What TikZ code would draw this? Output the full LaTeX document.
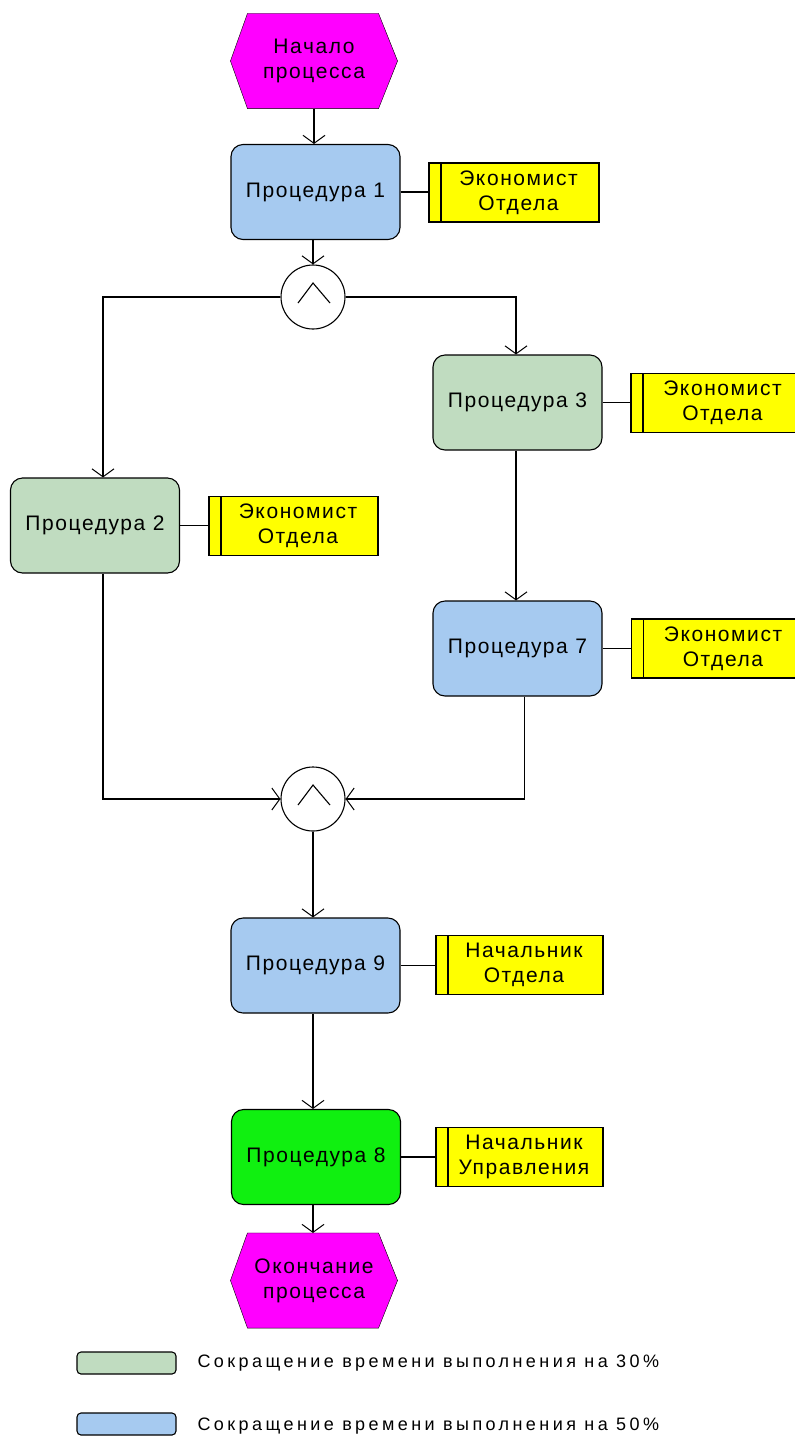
\documentclass[tikz,border=0pt]{standalone}
\usepackage{fontspec}
\setmainfont{Liberation Sans}[LetterSpace=7.5]
\newfontfamily\legfont{Liberation Sans}[LetterSpace=19]
\usetikzlibrary{arrows.meta,backgrounds}

\definecolor{procblue}{RGB}{166,202,240}
\definecolor{procgrey}{RGB}{192,220,192}
\definecolor{procgreen}{RGB}{16,240,16}
\definecolor{evmag}{RGB}{255,0,255}
\definecolor{roleyellow}{RGB}{255,255,0}

% two-line role caption, set a little right of centre (past the inner bar)
\newcommand\roletext[2]{\hspace*{9pt}\begin{tabular}{@{}c@{}}#1\\#2\end{tabular}}

\begin{document}
\begin{tikzpicture}[x=1pt,y=-1pt,line width=1.1pt,
  font=\fontsize{21}{25}\selectfont,
  every node/.style={inner sep=0pt,align=center},
  proc/.style={draw,rounded corners=12pt,minimum width=169pt,minimum height=95pt},
  role/.style={draw,fill=roleyellow,minimum height=59pt,
    path picture={\draw ([xshift=12pt]path picture bounding box.north west)
      -- ([xshift=12pt]path picture bounding box.south west);}},
  evt/.style={minimum width=166pt,minimum height=94pt},
  andgate/.style={draw,circle,minimum size=64pt,
    path picture={\draw ([shift={(-15,6)}]path picture bounding box.center)
      -- ([shift={(0,-14)}]path picture bounding box.center)
      -- ([shift={(17,6)}]path picture bounding box.center);}},
  flow/.style={-{Straight Barb[length=8pt,width=22pt,line width=1pt]}},
  link/.style={line width=1.1pt},
  legbox/.style={draw,rounded corners=4pt,minimum width=99pt,minimum height=22pt},
  legtext/.style={anchor=west,font=\legfont\fontsize{18}{20}\selectfont}
]
\useasboundingbox (0,0) rectangle (795,1436);
\begin{scope}
\clip (0,0) rectangle (795,1436);

% events
\node[evt] (start) at (314,61) {Начало\\процесса};
\node[evt] (finish) at (314,1280.5) {Окончание\\процесса};
\begin{scope}[on background layer]
  \foreach \e in {start,finish}{
    \filldraw[fill=evmag] (\e.west) -- ([xshift=17pt]\e.north west)
      -- ([xshift=-19pt]\e.north east) -- (\e.east)
      -- ([xshift=-19pt]\e.south east) -- ([xshift=17pt]\e.south west) -- cycle;
  }
\end{scope}

% procedures
\node[proc,fill=procblue]  (p1) at (315.5,192)   {Процедура 1};
\node[proc,fill=procgrey]  (p3) at (517.5,402.5) {Процедура 3};
\node[proc,fill=procgrey]  (p2) at (95,525.5)    {Процедура 2};
\node[proc,fill=procblue]  (p7) at (517.5,648.5) {Процедура 7};
\node[proc,fill=procblue]  (p9) at (315.5,965.5) {Процедура 9};
\node[proc,fill=procgreen] (p8) at (316,1157)    {Процедура 8};

% roles
\node[role,minimum width=170pt] (r1) at (514,192.5)   {\roletext{Экономист}{Отдела}};
\node[role,minimum width=174pt] (r3) at (718,403)     {\roletext{Экономист}{Отдела}};
\node[role,minimum width=169pt] (r2) at (293.5,526)   {\roletext{Экономист}{Отдела}};
\node[role,minimum width=174pt] (r7) at (718.5,648.5) {\roletext{Экономист}{Отдела}};
\node[role,minimum width=167pt] (r9) at (519.5,965)   {\roletext{Начальник}{Отдела}};
\node[role,minimum width=167pt] (r8) at (519.5,1157)  {\roletext{Начальник}{Управления}};

% operators
\node[andgate] (and1) at (313,297) {};
\node[andgate] (and2) at (313,799) {};

% control flow
\draw[flow] (start.south) -- (start.south |- p1.north);
\draw[flow] (p1.south -| and1.north) -- (and1.north);
\draw[flow] (and1.west) -| ([xshift=8pt]p2.north);
\draw[flow] (and1.east) -| ([xshift=-1.5pt]p3.north);
\draw[flow] ([xshift=-1.5pt]p3.south) -- ([xshift=-1.5pt]p7.north);
\draw[flow] ([xshift=8pt]p2.south) |- (and2.west);
\draw[flow] ([xshift=7pt]p7.south) |- (and2.east);
\draw[flow] (and2.south) -- (and2.south |- p9.north);
\draw[flow] (p9.south -| and2.south) -- (p8.north -| and2.south);
\draw[flow] (p8.south -| and2.south) -- (finish.north -| and2.south);

% role assignments
\foreach \p/\r in {p1/r1,p3/r3,p2/r2,p7/r7,p9/r9,p8/r8}
  \draw[link] (\p.east) -- (\r.west |- \p.east);

% legend
\node[legbox,fill=procgrey] (leg30) at (126.5,1363) {};
\node[legbox,fill=procblue] (leg50) at (126.5,1424) {};
\node[legtext] (legt30) at (197,1363) {Сокращение времени выполнения на 30\%};
\node[legtext] (legt50) at (197,1426) {Сокращение времени выполнения на 50\%};
\end{scope}
\end{tikzpicture}
\end{document}
